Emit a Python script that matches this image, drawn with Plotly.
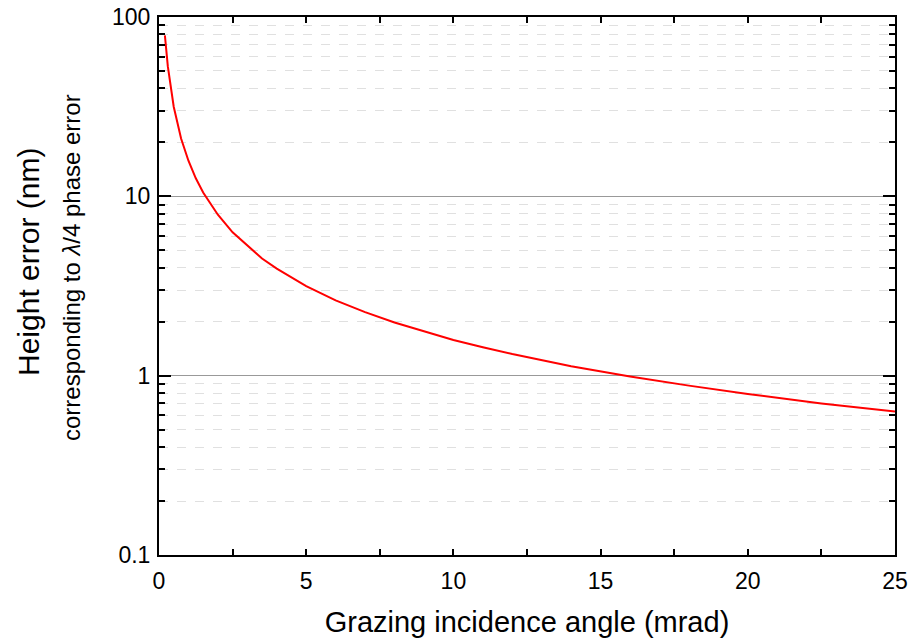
import plotly.graph_objects as go

angle_mrad = [0.2, 0.3, 0.5, 0.75, 1.0, 1.25, 1.5, 2.0, 2.5, 3.0, 3.5, 4.0, 5.0, 6.0, 7.0,
              8.0, 9.0, 10.0, 11.0, 12.0, 14.0, 16.0, 18.0, 20.0, 22.5, 25.0]
height_nm = [79, 53, 31.6, 21.0, 15.8, 12.6, 10.5, 7.9, 6.3, 5.3, 4.5, 3.95, 3.16, 2.63, 2.26,
             1.98, 1.76, 1.58, 1.44, 1.32, 1.13, 0.99, 0.88, 0.79, 0.70, 0.632]

x_ticks = [0, 5, 10, 15, 20, 25]
y_ticks = [0.1, 1, 10, 100]
y_ticklabels = ["0.1", "1", "10", "100"]

y_title_main = "Height error (nm)"
y_title_sub = "corresponding to <i>λ</i>/4 phase error"
x_title = "Grazing incidence angle (mrad)"

FONT = "Liberation Sans, Arial, sans-serif"

# plot area in pixels (used for title placement only)
L, R, T, B = 159, 16, 17, 85
W, H = 911, 640
PW, PH = W - L - R, H - T - B

def px_x(p):
    return (p - L) / PW

def px_y(p):
    return (H - B - p) / PH

fig = go.Figure()
fig.add_trace(go.Scatter(x=angle_mrad, y=height_nm, mode="lines",
                         line=dict(color="#ff0000", width=2), showlegend=False))

fig.update_layout(
    width=W, height=H,
    margin=dict(l=L, r=R, t=T, b=B),
    paper_bgcolor="white", plot_bgcolor="white",
    font=dict(family=FONT, color="black"),
    xaxis=dict(
        range=[0, 25], tickvals=x_ticks, ticktext=[str(v) for v in x_ticks],
        ticks="inside", ticklen=6, tickwidth=1.5, tickcolor="black",
        showline=True, linecolor="black", linewidth=2, mirror="ticks",
        showgrid=False, zeroline=False, automargin=False,
        tickfont=dict(size=23, family=FONT),
        ticklabelstandoff=4,
        minor=dict(dtick=2.5, ticks="inside", ticklen=6, tickwidth=1.5, tickcolor="black", showgrid=False),
        title=dict(text=x_title, font=dict(size=29, family=FONT), standoff=19),
    ),
    yaxis=dict(
        type="log", range=[-1, 2], tickvals=y_ticks, ticktext=y_ticklabels,
        ticks="inside", ticklen=12, tickwidth=2, tickcolor="black",
        showline=True, linecolor="black", linewidth=2, mirror="ticks",
        showgrid=True, gridcolor="#999999", gridwidth=1, zeroline=False, automargin=False,
        tickfont=dict(size=23, family=FONT),
        ticklabelstandoff=2,
        minor=dict(dtick="D1", ticks="inside", ticklen=6, tickwidth=2, tickcolor="black",
                   showgrid=True, gridcolor="#e0e0e0", griddash="dash", gridwidth=1),
    ),
    annotations=[
        dict(text=y_title_main, xref="paper", yref="paper", x=px_x(28), y=px_y(262),
             xanchor="center", yanchor="middle", textangle=-90, showarrow=False,
             font=dict(size=30, family=FONT, color="black")),
        dict(text=y_title_sub, xref="paper", yref="paper", x=px_x(71), y=px_y(268),
             xanchor="center", yanchor="middle", textangle=-90, showarrow=False,
             font=dict(size=24, family=FONT, color="black")),
    ],
)

fig.write_html("out.html")
